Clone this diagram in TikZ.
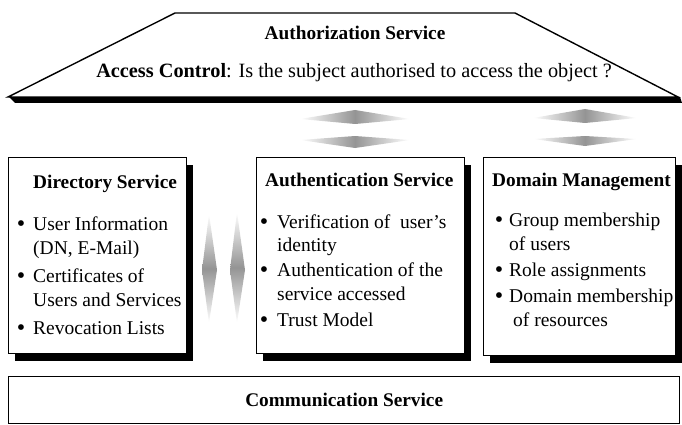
\documentclass[tikz,border=0pt]{standalone}
\usepackage{fontspec}
\setmainfont{Liberation Serif}
\usetikzlibrary{shadows}
\begin{document}
\begin{tikzpicture}[x=1pt,y=-1pt,
  box/.style={draw=black, line width=1.4pt, fill=white, anchor=north west, inner sep=0pt},
  shadowed/.style={drop shadow={shadow xshift=6pt, shadow yshift=-7pt, fill=black, opacity=1}},
  ttl/.style={anchor=base west, inner sep=0pt, font=\fontsize{19.3}{24}\selectfont\bfseries},
  txt/.style={anchor=base west, inner sep=0pt, font=\fontsize{19.5}{24}\selectfont},
  bul/.style={anchor=base, inner sep=0pt, yshift=-1.5pt, font=\fontsize{24}{24}\selectfont},
  hlens/.style={left color=white, right color=white, middle color=black!42},
  vlens/.style={top color=white, bottom color=white, middle color=black!42}]
\useasboundingbox (0,0) rectangle (682,425);

% Authorization trapezoid
\fill[black] (9,97) -- (680,97) -- (682,103) -- (15,103) -- cycle;
\draw[line width=1.4pt, fill=white, line join=miter] (175,13) -- (515,13) -- (678,97) -- (8,97) -- cycle;
\node[anchor=base, inner sep=0pt, font=\fontsize{19.3}{24}\selectfont\bfseries] (authz) at (355,40) {Authorization Service};
\node[anchor=base, inner sep=0pt, font=\fontsize{20.3}{24}\selectfont] (acl) at (354,78) {\textbf{Access Control}: Is the subject authorised to access the object ?};

% fuzzy arrows
\shade[hlens] (300,119) -- (355,110) -- (410,119) -- (355,124) -- cycle;
\shade[hlens] (300,140) -- (355,136) -- (410,140) -- (355,148) -- cycle;
\shade[hlens] (533,118) -- (585,109) -- (637,118) -- (585,123) -- cycle;
\shade[hlens] (533,139) -- (585,136) -- (637,139) -- (585,146) -- cycle;
\shade[vlens] (209,214) -- (217,270) -- (209,323) -- (202,270) -- cycle;
\shade[vlens] (237,212) -- (245,270) -- (237,323) -- (230,270) -- cycle;

% boxes
\node[box, shadowed, minimum width=178pt, minimum height=196pt] (dir) at (8,157) {};
\node[box, shadowed, minimum width=208pt, minimum height=196pt] (auth) at (256,157) {};
\node[box, shadowed, minimum width=192pt, minimum height=198pt] (dom) at (483,157) {};
\node[box, minimum width=671pt, minimum height=47pt, font=\fontsize{19.3}{24}\selectfont\bfseries] (comm) at (8,376) {Communication Service};

% Directory Service
\node[ttl] (d0) at (33,188) {Directory Service};
\node[bul] (db1) at (21,230) {\textbullet};
\node[txt] (d1) at (33,230) {User Information};
\node[txt] (d2) at (33,254) {(DN, E-Mail)};
\node[bul] (db2) at (21,282) {\textbullet};
\node[txt] (d3) at (33,282) {Certificates of};
\node[txt] (d4) at (33,306) {Users and Services};
\node[bul] (db3) at (21,334) {\textbullet};
\node[txt] (d5) at (33,334) {Revocation Lists};

% Authentication Service
\node[ttl] (a0) at (265,186) {Authentication Service};
\node[bul] (ab1) at (264,228) {\textbullet};
\node[txt] (a1) at (277,228) {Verification of\ \ user’s};
\node[txt] (a2) at (277,251) {identity};
\node[bul] (ab2) at (264,276) {\textbullet};
\node[txt] (a3) at (277,276) {Authentication of the};
\node[txt] (a4) at (277,300) {service accessed};
\node[bul] (ab3) at (264,326) {\textbullet};
\node[txt] (a5) at (277,326) {Trust Model};

% Domain Management
\node[ttl] (m0) at (492,186) {Domain Management};
\node[bul] (mb1) at (499,226) {\textbullet};
\node[txt] (m1) at (509,226) {Group membership};
\node[txt] (m2) at (509,250) {of users};
\node[bul] (mb2) at (499,276) {\textbullet};
\node[txt] (m3) at (509,276) {Role assignments};
\node[bul] (mb3) at (499,302) {\textbullet};
\node[txt] (m4) at (509,302) {Domain membership};
\node[txt] (m5) at (513,326) {of resources};
\end{tikzpicture}
\end{document}
